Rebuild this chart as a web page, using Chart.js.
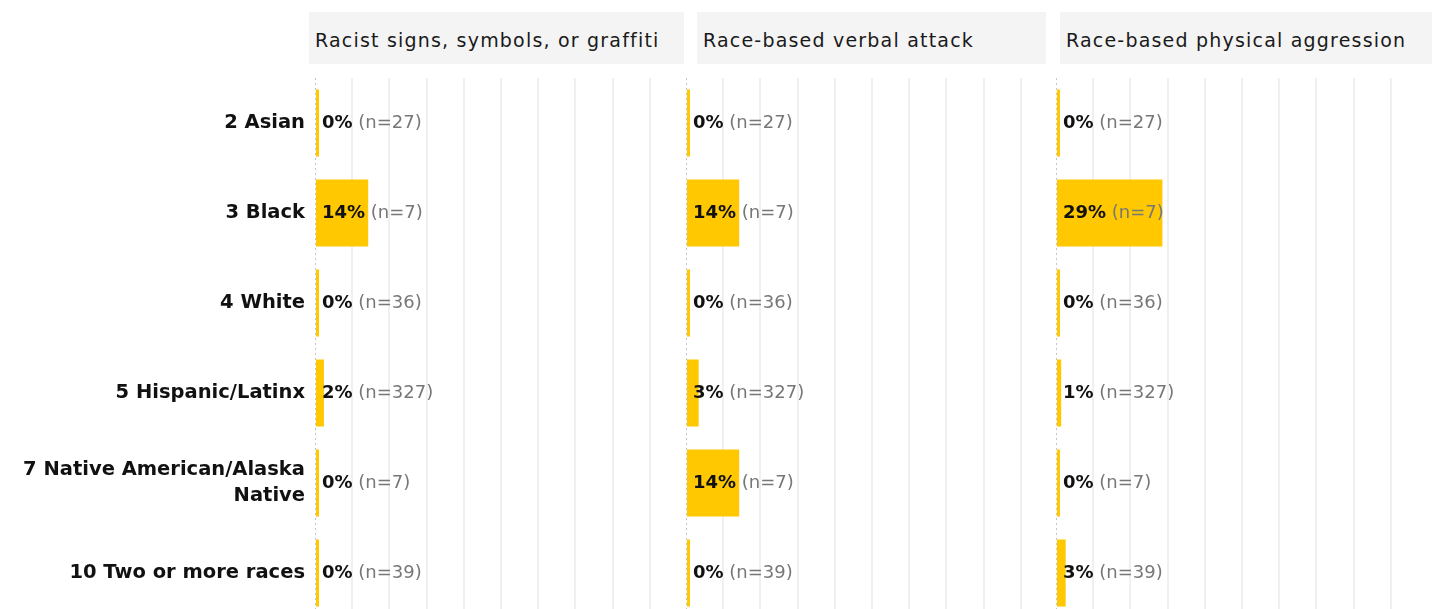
<!DOCTYPE html>
<html>
<head>
<meta charset="utf-8">
<script src="https://cdn.jsdelivr.net/npm/chart.js@4.4.1/dist/chart.umd.min.js"></script>
<style>
    html, body { margin: 0; padding: 0; background: #fff; overflow: hidden; }
    body { width: 1432px; height: 609px; position: relative; font-family: 'DejaVu Sans', sans-serif; }
    .head { position: absolute; top: 12px; height: 52px; background: #f4f4f4; color: #1a1a1a;
            font-size: 19px; letter-spacing: 1.2px; line-height: 52px; padding: 2px 0 0 6px;
            box-sizing: border-box; white-space: nowrap; }
    .panel { position: absolute; top: 78px; height: 540px; }
</style>
</head>
<body>
<div class="head" style="left:309px;width:375px">Racist signs, symbols, or graffiti</div>
<div class="head" style="left:697px;width:349px">Race-based verbal attack</div>
<div class="head" style="left:1060px;width:372px">Race-based physical aggression</div>

<div class="panel" style="left:0;width:687px"><canvas id="c1"></canvas></div>
<div class="panel" style="left:686px;width:372px"><canvas id="c2"></canvas></div>
<div class="panel" style="left:1056px;width:372px"><canvas id="c3"></canvas></div>

<script>
// Categories and values (percent of respondents)
const groups = ['2 Asian', '3 Black', '4 White', '5 Hispanic/Latinx',
                ['7 Native American/Alaska', 'Native'], '10 Two or more races'];
const counts = [27, 7, 36, 327, 7, 39];
const signsPct = [0, 14.3, 0, 2.4, 0, 0];
const verbalPct = [0, 14.3, 0, 3.4, 14.3, 0];
const physicalPct = [0, 28.6, 0, 1.4, 0, 2.6];

const BAR = '#ffc800';
const FONT = "'DejaVu Sans', sans-serif";

// dotted zero line, and "14% (n=7)" labels at a fixed offset from zero
const labelPlugin = {
    id: 'valueLabels',
    beforeDatasetsDraw(chart) {
        const { ctx, chartArea, scales } = chart;
        const x0 = Math.round(scales.x.getPixelForValue(0)) + 0.5;
        ctx.save();
        ctx.strokeStyle = '#c4c4c4';
        ctx.lineWidth = 1;
        ctx.setLineDash([2, 3]);
        ctx.beginPath();
        ctx.moveTo(x0, chartArea.top);
        ctx.lineTo(x0, chartArea.bottom);
        ctx.stroke();
        ctx.restore();
    },
    afterDatasetsDraw(chart) {
        const { ctx, scales } = chart;
        const data = chart.data.datasets[0].data;
        const x0 = scales.x.getPixelForValue(0) + 7;
        ctx.save();
        ctx.textBaseline = 'middle';
        chart.getDatasetMeta(0).data.forEach((bar, i) => {
            const pct = Math.round(data[i]) + '%';
            ctx.font = 'bold 18px ' + FONT;
            ctx.fillStyle = '#111';
            ctx.fillText(pct, x0, bar.y);
            const w = ctx.measureText(pct).width;
            ctx.font = '18px ' + FONT;
            ctx.fillStyle = '#777';
            ctx.fillText(' (n=' + counts[i] + ')', x0 + w, bar.y);
        });
        // category names, only on the first panel
        if (chart.options.plugins.valueLabels.categories) {
            const y = scales.y;
            ctx.font = 'bold 19.5px ' + FONT;
            ctx.fillStyle = '#111';
            ctx.textAlign = 'right';
            chart.data.labels.forEach((lab, i) => {
                const lines = Array.isArray(lab) ? lab : [lab];
                const yc = y.getPixelForTick(i);
                lines.forEach((ln, k) => {
                    ctx.fillText(ln, chart.chartArea.left - 10, yc + (k - (lines.length - 1) / 2) * 26);
                });
            });
        }
        ctx.restore();
    }
};

function makePanel(id, values, showLabels) {
    new Chart(document.getElementById(id), {
        type: 'bar',
        data: {
            labels: groups,
            datasets: [{
                data: values,
                backgroundColor: BAR,
                borderWidth: 0,
                minBarLength: 4,
                categoryPercentage: 1,
                barPercentage: 0.745,
            }]
        },
        options: {
            indexAxis: 'y',
            responsive: true,
            maintainAspectRatio: false,
            animation: false,
            layout: { padding: { left: showLabels ? 315 : 0 } },
            plugins: {
                legend: { display: false },
                tooltip: { enabled: false },
                valueLabels: { categories: showLabels }
            },
            scales: {
                x: {
                    min: 0, max: 100,
                    ticks: { display: false, stepSize: 10 },
                    grid: {
                        drawTicks: false,
                        lineWidth: 2,
                        color: c => (c.tick && (c.tick.value === 0 || c.tick.value === 100)) ? 'rgba(0,0,0,0)' : '#f0f0f0'
                    },
                    border: { display: false }
                },
                y: { display: false }
            }
        },
        plugins: [labelPlugin]
    });
}

makePanel('c1', signsPct, true);
makePanel('c2', verbalPct, false);
makePanel('c3', physicalPct, false);
</script>
</body>
</html>
